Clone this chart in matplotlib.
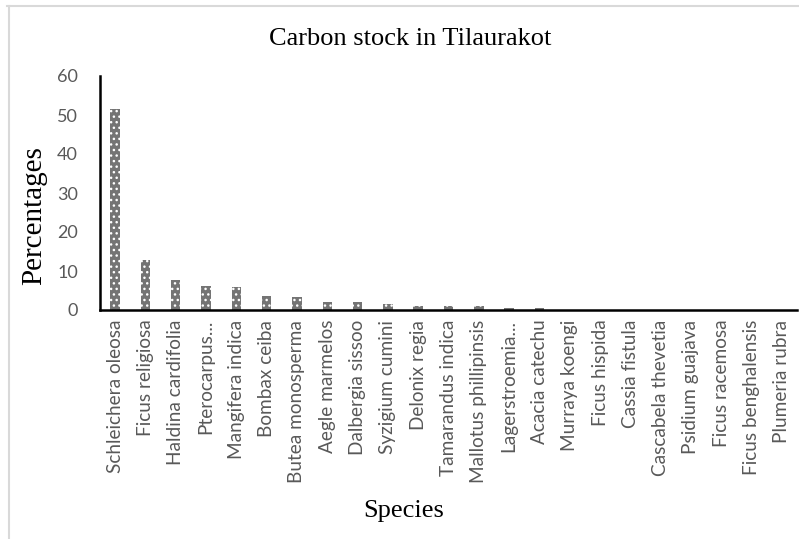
import matplotlib
matplotlib.use("Agg")
import matplotlib.pyplot as plt
from matplotlib.lines import Line2D
import numpy as np

species = ["Schleichera oleosa", "Ficus religiosa", "Haldina cardifolia", "Pterocarpus...",
           "Mangifera indica", "Bombax ceiba", "Butea monosperma", "Aegle marmelos",
           "Dalbergia sissoo", "Syzigium cumini", "Delonix regia", "Tamarandus indica",
           "Mallotus phillipinsis", "Lagerstroemia...", "Acacia catechu", "Murraya koengi",
           "Ficus hispida", "Cassia fistula", "Cascabela thevetia", "Psidium guajava",
           "Ficus racemosa", "Ficus benghalensis", "Plumeria rubra"]
percentages = [51.5, 12.8, 7.7, 6.1, 5.8, 3.7, 3.3, 2.1, 2.1, 1.6, 1.0, 1.0,
               0.9, 0.6, 0.6, 0.1, 0.05, 0.05, 0.05, 0.03, 0.03, 0.02, 0.02]
yticks = [0, 10, 20, 30, 40, 50, 60]

W, H = 799, 539
fig = plt.figure(figsize=(W / 100, H / 100), dpi=100)
ax = fig.add_axes([100 / W, (H - 310) / H, 697 / W, 234 / H])

x = np.arange(len(species))
ax.bar(x, percentages, width=0.31, color="#747474", edgecolor="white",
       linewidth=0, hatch="...")
ax.set_xlim(-0.5, len(species) - 0.5)
ax.set_ylim(0, 60)
ax.set_yticks(yticks)
ax.set_xticks(x)
ax.set_xticklabels(species, rotation=90, fontfamily="Lato", fontsize=13.7, color="#595959")
for lab in ax.get_yticklabels():
    lab.set_fontfamily("Lato")
    lab.set_fontsize(13)
    lab.set_color("#595959")
ax.tick_params(axis="both", length=0, pad=7)
ax.tick_params(axis="y", pad=16)
for s in ["top", "right"]:
    ax.spines[s].set_visible(False)
for s in ["left", "bottom"]:
    ax.spines[s].set_linewidth(1.8)
    ax.spines[s].set_color("black")

fig.text(410 / W, 1 - 39 / H, "Carbon stock in Tilaurakot", ha="center", va="center",
         fontfamily="Liberation Serif", fontsize=19)
fig.text(34 / W, 1 - 216 / H, "Percentages", rotation=90, ha="center", va="center",
         fontfamily="Liberation Serif", fontsize=21)
fig.text(404 / W, 1 - 511 / H, "Species", ha="center", va="center",
         fontfamily="Liberation Serif", fontsize=19)

fig.add_artist(Line2D([7 / W, 1], [1 - 6 / H, 1 - 6 / H], color="#d9d9d9", lw=1.5,
                      transform=fig.transFigure))
fig.add_artist(Line2D([9 / W, 9 / W], [0, 1 - 6 / H], color="#d9d9d9", lw=1.5,
                      transform=fig.transFigure))

fig.savefig("out.png", dpi=100)
